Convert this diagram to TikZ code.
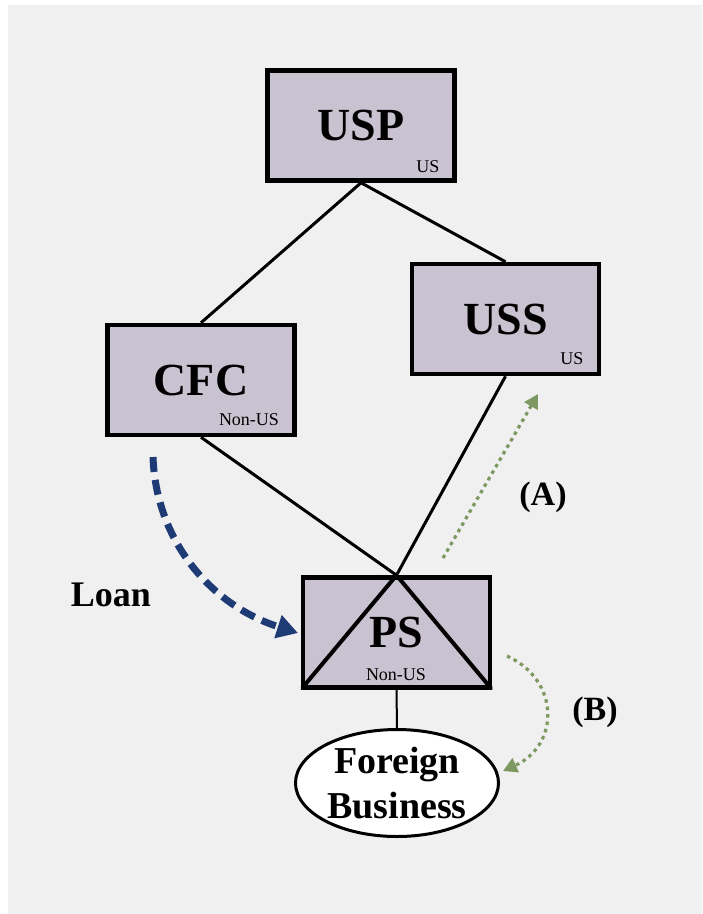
\documentclass[tikz,border=0pt]{standalone}
\usepackage{fontspec}
\setmainfont{Liberation Serif}
\usetikzlibrary{arrows.meta,shapes.geometric,calc}

\definecolor{panelgray}{HTML}{F0F0F0}
\definecolor{entityfill}{HTML}{C9C3D1}
\definecolor{loanblue}{HTML}{1F3B75}
\definecolor{flowgreen}{HTML}{7E9862}

\pgfdeclarelayer{panel}
\pgfdeclarelayer{links}
\pgfsetlayers{panel,links,main}

\tikzset{
  entity/.style={draw=black, fill=entityfill, line width=4.5pt,
    minimum width=187pt, minimum height=110pt, inner sep=0pt,
    font=\fontsize{46}{50}\selectfont\bfseries},
  juris/.style={inner sep=0pt, font=\fontsize{18}{20}\selectfont},
  business/.style={ellipse, draw=black, fill=white, line width=3pt,
    minimum width=203pt, minimum height=107pt, inner sep=0pt, align=center,
    font=\fontsize{38}{45}\selectfont\bfseries},
  tag/.style={inner sep=0pt, font=\fontsize{34}{40}\selectfont\bfseries},
  link/.style={draw=black, line width=3pt},
  loanarrow/.style={draw=loanblue, line width=7pt, dash pattern=on 15pt off 8pt,
    -{Triangle[length=21pt,width=23pt]}},
  flowarrow/.style={draw=flowgreen, line width=3.2pt, dash pattern=on 3.5pt off 4pt,
    -{Triangle[length=14pt,width=15pt]}}
}

\begin{document}
\begin{tikzpicture}[x=1pt,y=-1pt]
  \useasboundingbox (0,0) rectangle (703,914);
  \begin{pgfonlayer}{panel}
    \fill[panelgray] (8,5) rectangle (702,914);
  \end{pgfonlayer}

  % entities
  \node[entity] (usp) at (361,125.5) {USP};
  \node[entity] (uss) at (505.5,319) {USS};
  \node[entity] (cfc) at (201,380) {CFC};
  \node[entity] (ps)  at (396.5,632.5) {PS};
  % hybrid marking inside PS, kept within its frame
  \begin{scope}
    \clip (ps.south west) rectangle (ps.north east);
    \draw[line width=4pt] (ps.south west) -- (ps.north) -- (ps.south east);
  \end{scope}

  \node[juris] (uspj) at (428,167) {US};
  \node[juris] (ussj) at (572,359) {US};
  \node[juris] (cfcj) at (249,420) {Non-US};
  \node[juris] (psj)  at (396,675) {Non-US};

  \node[business] (fb) at (397,783) {Foreign\\Business};

  % ownership links
  \begin{pgfonlayer}{links}
    \draw[link] (usp.south) -- (cfc.north);
    \draw[link] (usp.south) -- (uss.north);
    \draw[link] (cfc.south) -- (ps.north);
    \draw[link] (uss.south) -- (ps.north);
    \draw[draw=black, line width=2pt] (ps.south) -- (fb.north);
  \end{pgfonlayer}

  % loan from the CFC to PS
  \coordinate (loanstart) at (153,457);
  \coordinate (loanend) at (298,633);
  \draw[loanarrow] (loanstart) .. controls (156,540) and (210,605) .. (loanend);
  \node[inner sep=0pt, font=\fontsize{36}{40}\selectfont\bfseries] (loan) at (111,595) {Loan};

  % flows (A) and (B)
  \coordinate (astart) at (443,558);
  \coordinate (aend) at (538,394);
  \draw[flowarrow] (astart) -- (aend);
  \node[tag] (alabel) at (543,497) {(A)};

  \coordinate (bstart) at (507,656);
  \coordinate (bend) at (503,771);
  \draw[flowarrow] (bstart) .. controls (560,680) and (560,745) .. (bend);
  \node[tag] (blabel) at (595,712) {(B)};
\end{tikzpicture}
\end{document}
